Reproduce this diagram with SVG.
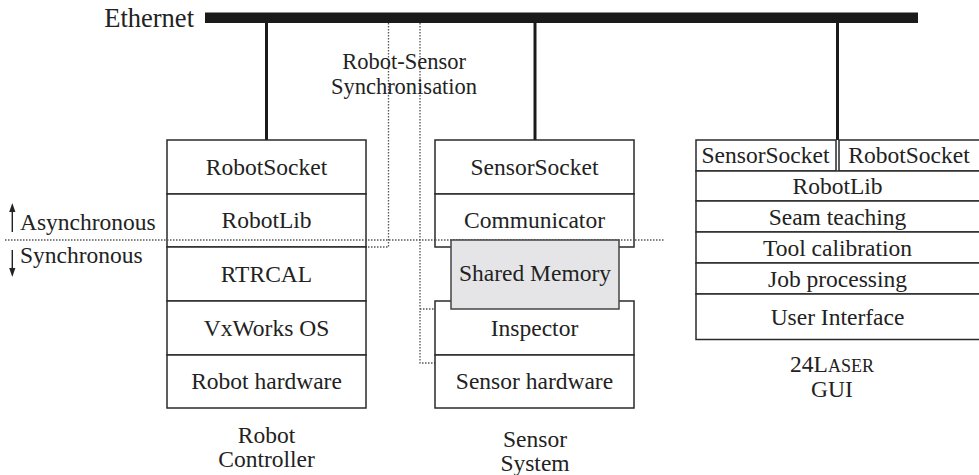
<svg xmlns="http://www.w3.org/2000/svg" width="979" height="475" viewBox="0 0 979 475" font-family="'Liberation Serif', 'Times New Roman', 'DejaVu Serif', serif">
<style>
text{font-family:'Liberation Serif','Times New Roman','DejaVu Serif',serif;fill:#222;font-size:23.5px;}
.c{text-anchor:middle;}
.box{fill:#fff;stroke:#2a2a2a;stroke-width:1.5;}
.shm{fill:#e5e5e7;stroke:#444;stroke-width:1.5;}
.dot{fill:none;stroke:#555;stroke-width:1.3;stroke-dasharray:1.5 1.5;}
.link{stroke:#1a1a1a;stroke-width:3;fill:none;}
</style>
<rect width="979" height="475" fill="#fff"/>

<g id="ethernet">
<rect x="205" y="12.5" width="713" height="10.5" fill="#1a1a1a"/>
<text x="194" y="26.5" style="font-size:26.5px;text-anchor:end">Ethernet</text>
</g>

<g id="connectors">
<line class="link" x1="266.5" y1="23" x2="266.5" y2="140"/>
<line class="link" x1="535" y1="23" x2="535" y2="140"/>
<line class="link" x1="837.5" y1="23" x2="837.5" y2="140"/>
<line class="dot" x1="5" y1="240" x2="665" y2="240"/>
<polyline class="dot" points="388.5,23 388.5,247 366,247"/>
<polyline class="dot" points="420,23 420,363 435,363"/>
<line class="dot" x1="420" y1="309" x2="435" y2="309"/>
</g>

<g id="sync-label">
<text class="c" x="404" y="69" style="font-size:22.5px">Robot-Sensor</text>
<text class="c" x="404" y="94" style="font-size:22.5px">Synchronisation</text>
</g>

<g id="async-sync">
<line x1="12.3" y1="232" x2="12.3" y2="210" stroke="#222" stroke-width="1.4"/>
<polygon points="12.3,203 9.2,212 15.4,212" fill="#222"/>
<line x1="12.3" y1="250" x2="12.3" y2="270" stroke="#222" stroke-width="1.4"/>
<polygon points="12.3,277 9.2,268 15.4,268" fill="#222"/>
<text x="20" y="230">Asynchronous</text>
<text x="20" y="263">Synchronous</text>
</g>

<g id="robot-controller">
<rect class="box" x="167" y="140" width="199" height="54"/>
<rect class="box" x="167" y="194" width="199" height="53"/>
<rect class="box" x="167" y="247" width="199" height="54"/>
<rect class="box" x="167" y="301" width="199" height="54"/>
<rect class="box" x="167" y="355" width="199" height="53"/>
<text class="c" x="266.5" y="175">RobotSocket</text>
<text class="c" x="266.5" y="228">RobotLib</text>
<text class="c" x="266.5" y="282">RTRCAL</text>
<text class="c" x="266.5" y="336">VxWorks OS</text>
<text class="c" x="266.5" y="389">Robot hardware</text>
<text class="c" x="266.5" y="443">Robot</text>
<text class="c" x="266.5" y="467">Controller</text>
</g>
<line class="dot" x1="167" y1="240" x2="366" y2="240"/>

<g id="sensor-system">
<rect class="box" x="435" y="140" width="199" height="54"/>
<rect class="box" x="435" y="194" width="199" height="53"/>
<rect class="box" x="435" y="301" width="199" height="54"/>
<rect class="box" x="435" y="355" width="199" height="53"/>
<text class="c" x="534.5" y="175">SensorSocket</text>
<text class="c" x="534.5" y="228">Communicator</text>
<text class="c" x="534.5" y="336">Inspector</text>
<text class="c" x="534.5" y="389">Sensor hardware</text>
<text class="c" x="535" y="447">Sensor</text>
<text class="c" x="535" y="471">System</text>
</g>
<line class="dot" x1="435" y1="240" x2="634" y2="240"/>

<g id="shared-memory">
<rect class="shm" x="451" y="240" width="168" height="69"/>
<text class="c" x="535" y="281">Shared Memory</text>
</g>

<g id="gui">
<rect class="box" x="696" y="140" width="140" height="31"/>
<rect class="box" x="839" y="140" width="150" height="31"/>
<rect class="box" x="696" y="171" width="293" height="30"/>
<rect class="box" x="696" y="201" width="293" height="31"/>
<rect class="box" x="696" y="232" width="293" height="31"/>
<rect class="box" x="696" y="263" width="293" height="31"/>
<rect class="box" x="696" y="294" width="293" height="45.5"/>
<text class="c" x="765.5" y="163">SensorSocket</text>
<text class="c" x="909" y="163">RobotSocket</text>
<text class="c" x="837.5" y="194">RobotLib</text>
<text class="c" x="837.5" y="224.5">Seam teaching</text>
<text class="c" x="837.5" y="255.5">Tool calibration</text>
<text class="c" x="837.5" y="286.5">Job processing</text>
<text class="c" x="837.5" y="325">User Interface</text>
<text class="c" x="832" y="372">24L<tspan style="font-size:18px">ASER</tspan></text>
<text class="c" x="832" y="397">GUI</text>
</g>
</svg>
